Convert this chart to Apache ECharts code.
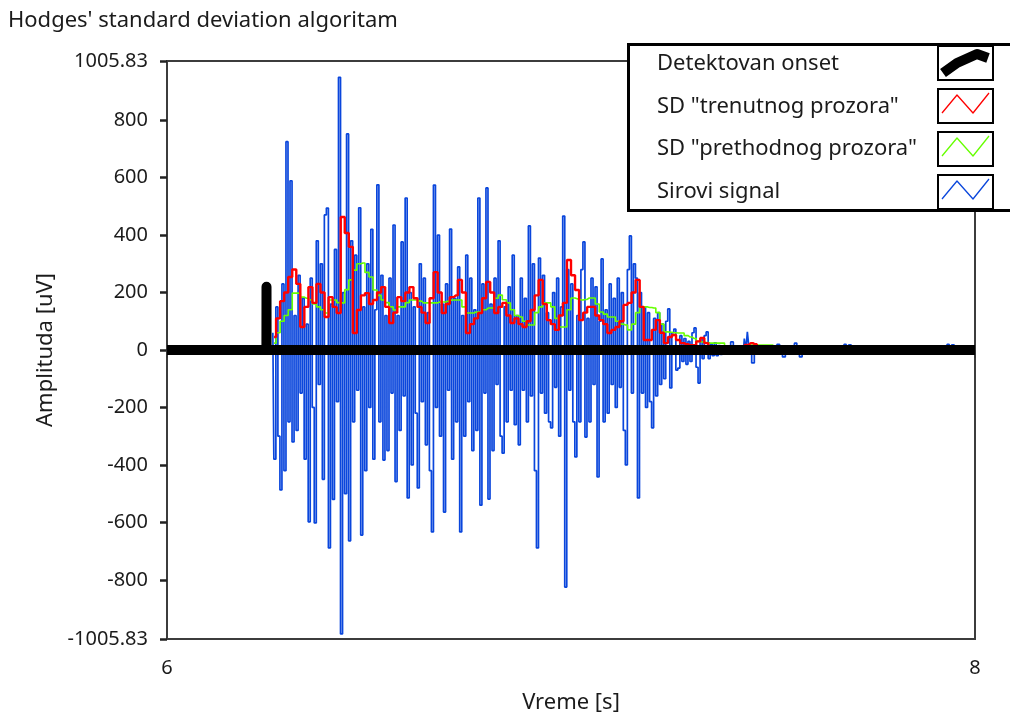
<!DOCTYPE html>
<html>
<head>
<meta charset="utf-8">
<title>Hodges' standard deviation algoritam</title>
<script src="https://cdn.jsdelivr.net/npm/echarts@6/dist/echarts.min.js"></script>
<style>
  html, body { margin: 0; padding: 0; background: #ffffff; }
  #chart { width: 1010px; height: 714px; }
</style>
</head>
<body>
<div id="chart"></div>
<script>
// ---- data -------------------------------------------------------------
const titleText = "Hodges' standard deviation algoritam";
const yLimit = 1005.83;
const yTickValues = [-1005.83, -800, -600, -400, -200, 0, 200, 400, 600, 800, 1005.83];
const xRange = [6, 8];
const seriesNames = ['Detektovan onset', 'SD "trenutnog prozora"', 'SD "prethodnog prozora"', 'Sirovi signal'];
const seriesColors = ['#000000', '#ff0000', '#66ff00', '#0a46dc'];

// detected onset: zero baseline with one marker pulse
const onsetT = [6, 6.2461, 6.2463, 6.2465, 8];
const onsetV = [0, 0, 220, 0, 0];

// raw EMG signal (uV), uniformly sampled during the burst
const rawStart = 6.262;
const rawStep = 0.005;
const rawValues = [
  60, -380, 150, -300, -487, 230, -420, 725, -250, 589,
  -320, 120, -280, 260, -150, 180, -380, 90, -598, 250,
  -200, -602, 380, -120, 300, -450, 470, 494, -689, 160,
  -520, 350, -180, 949, -988, 200, -500, 752, -664, 380,
  -250, 330, -140, 495, -644, 150, -420, 300, -200, 420,
  -380, 140, 575, -250, 260, -383, 120, -350, 250, -150,
  435, -458, 120, -280, 376, -160, 529, -515, 200, -400,
  150, -220, -480, 300, -180, 250, -330, 130, -420, -633,
  574, -200, 400, -300, 160, -564, 230, -140, 421, -380,
  180, -250, 289, -633, 120, -300, 330, -180, 250, -350,
  140, -280, 529, -540, 230, -150, 564, -519, 160, -350,
  250, -120, 380, -300, -359, 150, -250, 220, -140, 330,
  -260, 120, -330, 250, -140, 180, -250, 432, -160, 300,
  -420, -689, 320, -150, 260, -220, 130, -250, -271, 200,
  -130, 250, -300, 150, 466, -825, 280, -140, 230, -250,
  -372, 120, -250, 280, 376, -303, 110, -250, 250, -120,
  220, -442, 100, 317, -250, 140, -220, 230, -120, 180,
  -200, 250, -130, 200, -280, -400, 280, 397, -150, 300,
  250, -515, 200, -150, 150, -200, 130, -180, -271, 110,
  -160, 130, -120, 90, -100, 100, 143, -132, 60, 73,
  -70, -63, 50, -40, 40, -50, 30, -40, 60, 77,
  -60, -115, 40, -30, 50, 63, -30, 20, -20, 25,
  -20, 15, -15, 10, -10, 5
];
// raw signal after the burst: isolated small spikes on a flat baseline
const tailT = [7.392, 7.3985, 7.405, 7.427, 7.431, 7.435, 7.438, 7.444, 7.4505, 7.457,
               7.508, 7.5124, 7.52, 7.527, 7.534, 7.551, 7.5557, 7.562, 7.569, 7.575,
               7.674, 7.678, 7.684, 7.6906, 7.696, 7.929, 7.933, 7.939, 7.9455, 7.951, 8];
const tailV = [0, 28, 0, 0, 40, 0, 63, 0, -45, 0,
               0, 20, 0, -24, 0, 0, 24, 0, -24, 0,
               0, 20, 0, 18, 0, 0, 20, 0, 18, 0, 0];

// moving standard deviations (uV)
const sdStart = 6.265;
const sdStep = 0.01;
const sdCurrent = [
  45, 110, 170, 200, 254, 280, 230, 80, 150, 219,
  164, 230, 200, 115, 184, 150, 129, 463, 407, 359,
  59, 139, 190, 198, 160, 174, 200, 219, 150, 94,
  130, 184, 170, 200, 219, 180, 150, 130, 94, 180,
  271, 200, 129, 160, 184, 190, 244, 200, 59, 90,
  110, 129, 180, 237, 200, 129, 150, 164, 120, 94,
  110, 90, 80, 100, 139, 190, 244, 160, 104, 90,
  70, 120, 164, 313, 260, 209, 104, 130, 150, 150,
  120, 104, 90, 59, 70, 80, 100, 157, 164, 200,
  244, 150, 35, 35, 70, 104, 60, 24, 45, 52,
  35, 24, 20, 17, 17, 30, 42, 24, 12, 8,
  6, 5, 5, 5, 6, 5, 8, 18, 24, 20,
  8, 5, 4
];
const sdPrevious = [
  24, 60, 100, 120, 140, 198, 198, 184, 180, 174,
  160, 150, 140, 129, 174, 174, 165, 164, 210, 244,
  278, 300, 303, 270, 254, 209, 190, 174, 165, 150,
  139, 150, 150, 165, 174, 174, 170, 164, 164, 164,
  164, 167, 167, 170, 174, 174, 174, 150, 129, 129,
  132, 132, 140, 146, 146, 180, 191, 175, 164, 140,
  120, 115, 100, 87, 87, 130, 150, 164, 164, 150,
  110, 80, 80, 140, 181, 178, 174, 176, 181, 181,
  160, 132, 125, 115, 115, 100, 90, 87, 70, 90,
  130, 150, 150, 148, 146, 130, 90, 63, 62, 60,
  59, 59, 50, 45, 40, 30, 28, 26, 24, 24,
  24, 24, 12, 8, 8, 8, 10, 14, 17, 17,
  17, 17, 17, 17, 10, 5
];

// ---- build series data ---------------------------------------------
const FONT = '"Noto Sans", "Open Sans", sans-serif';
const TEXT_COLOR = '#1b1b1b';
const t4 = (v) => Math.round(v * 10000) / 10000;

const onsetData = onsetT.map((t, i) => [t, onsetV[i]]);
const rawData = rawValues.map((v, i) => [t4(rawStart + i * rawStep), v])
  .concat(tailT.map((t, i) => [t, tailV[i]]));
const sdCurrentData = sdCurrent.map((v, i) => [t4(sdStart + i * sdStep), v]);
const sdPreviousData = sdPrevious.map((v, i) => [t4(sdStart + i * sdStep), v]);

// ---- legend panel (drawn as graphics on top of the plot) --------------
const legendBox = { x: 628.5, y: 44.5, w: 400, h: 166 };
const iconBox = { x: 938, w: 55, h: 34, tops: [46, 89, 132, 175] };
const legendTextX = 657;
const legendTextY = [64, 107, 149, 192];

const legendGraphics = [{
  type: 'rect', z: 100,
  shape: { x: legendBox.x, y: legendBox.y, width: legendBox.w, height: legendBox.h },
  style: { fill: '#ffffff', stroke: '#000000', lineWidth: 3 }
}];
seriesNames.forEach((name, k) => {
  const top = iconBox.tops[k];
  legendGraphics.push({
    type: 'text', z: 101, x: legendTextX, y: legendTextY[k],
    style: { text: name, fill: TEXT_COLOR, font: '22px ' + FONT, verticalAlign: 'middle', textAlign: 'left' }
  });
  legendGraphics.push({
    type: 'rect', z: 101,
    shape: { x: iconBox.x, y: top, width: iconBox.w, height: iconBox.h },
    style: { fill: '#ffffff', stroke: '#000000', lineWidth: 2 }
  });
  const pts = k === 0
    ? [[943, top + 27], [957, top + 17], [977, top + 8], [988, top + 12]]
    : [[942, top + 24], [957, top + 6], [973, top + 24], [989, top + 4]];
  legendGraphics.push({
    type: 'polyline', z: 102,
    shape: { points: pts },
    style: { stroke: seriesColors[k], lineWidth: k === 0 ? 10 : 1.3, fill: null, lineJoin: 'round' }
  });
});

// ---- chart -------------------------------------------------------------
const chart = echarts.init(document.getElementById('chart'), null, { renderer: 'canvas' });
chart.setOption({
  animation: false,
  backgroundColor: '#ffffff',
  title: {
    text: titleText, left: 3, top: 5,
    textStyle: { fontFamily: FONT, fontSize: 22, fontWeight: 'normal', color: TEXT_COLOR }
  },
  grid: {
    left: 167, right: 35, top: 61, bottom: 75,
    outerBoundsMode: 'none',
    show: true, borderColor: '#3c3c3c', borderWidth: 2, backgroundColor: '#ffffff'
  },
  xAxis: {
    type: 'value', min: xRange[0], max: xRange[1], interval: 2,
    name: 'Vreme [s]', nameLocation: 'middle', nameGap: 53,
    nameTextStyle: { fontFamily: FONT, fontSize: 22, color: TEXT_COLOR },
    axisLine: { show: false },
    axisTick: { show: true, length: 8, lineStyle: { color: '#333333', width: 1.5 } },
    axisLabel: { fontFamily: FONT, fontSize: 20, color: TEXT_COLOR, margin: 19 },
    splitLine: { show: false }
  },
  yAxis: {
    type: 'value', min: -yLimit, max: yLimit,
    name: 'Amplituda [uV]', nameLocation: 'middle', nameRotate: 90, nameGap: 110,
    nameTextStyle: { fontFamily: FONT, fontSize: 22, color: TEXT_COLOR },
    axisLine: { show: false },
    axisTick: { show: true, length: 7, customValues: yTickValues, lineStyle: { color: '#222222', width: 2.5 } },
    axisLabel: {
      fontFamily: FONT, fontSize: 20, color: TEXT_COLOR, margin: 19,
      customValues: yTickValues,
      formatter: (v) => String(v)
    },
    splitLine: { show: false }
  },
  graphic: legendGraphics,
  series: [
    {
      name: seriesNames[3], type: 'line', data: rawData, showSymbol: false, step: 'middle',
      lineStyle: { color: seriesColors[3], width: 1.7 }, z: 2
    },
    {
      name: seriesNames[2], type: 'line', data: sdPreviousData, showSymbol: false, step: 'middle',
      lineStyle: { color: seriesColors[2], width: 1.6 }, z: 3
    },
    {
      name: seriesNames[1], type: 'line', data: sdCurrentData, showSymbol: false, step: 'middle',
      lineStyle: { color: seriesColors[1], width: 2.4 }, z: 4
    },
    {
      name: seriesNames[0], type: 'line', data: onsetData, showSymbol: false,
      lineStyle: { color: seriesColors[0], width: 10, join: 'round', cap: 'butt' }, z: 5
    }
  ]
});
</script>
</body>
</html>
